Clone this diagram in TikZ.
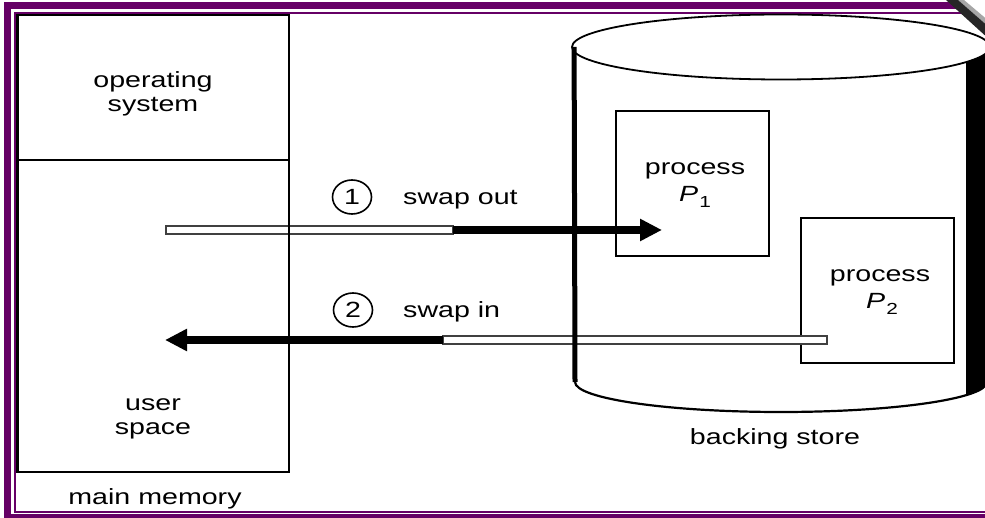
\documentclass[tikz,border=0pt]{standalone}
\usepackage{fontspec}
\setmainfont[FakeStretch=1.3]{Liberation Sans}
\usetikzlibrary{arrows.meta,calc,shapes.geometric}
\definecolor{framepurple}{RGB}{102,0,102}

\newcommand{\procsub}[1]{\raisebox{-0.45ex}{\fontsize{16}{16}\selectfont #1}}

\tikzset{
  lbl/.style={font=\fontsize{22}{24}\selectfont, inner sep=0pt, anchor=base},
  membox/.style={draw, line width=2.2pt, inner sep=0pt},
  procbox/.style={draw, line width=2.4pt, inner sep=0pt,
                  minimum width=153pt, minimum height=145pt},
  stepnum/.style={draw, ellipse, line width=1.6pt, inner sep=0pt,
                  minimum width=39pt, minimum height=34pt,
                  font=\fontsize{22}{24}\selectfont},
  hollowbar/.style={draw=black!75, line width=1.1pt, fill=white},
  solidarrow/.style={line width=8pt, -{Triangle[length=22pt,width=21pt]}},
}

\begin{document}
\begin{tikzpicture}[x=1pt,y=-1pt]
  \useasboundingbox (0,0) rectangle (985,518);
  \clip (0,0) rectangle (985,518);

  % double purple frame
  \draw[framepurple, line width=7pt] (7,6) rectangle (1000,517.5);
  \draw[framepurple, line width=2pt] (14.5,13) rectangle (1000,511.5);

  % backing store cylinder: shaded right flank, bottom rim, top
  \begin{scope}
    \clip (966,0) rectangle (1000,518);
    \fill[black] (575,47) -- (575,382)
      arc[start angle=180, end angle=0, x radius=206, y radius=30]
      -- (987,47) -- cycle;
  \end{scope}
  \draw[line width=2.2pt] (575,382)
      arc[start angle=180, end angle=0, x radius=206, y radius=30];
  \node[draw, ellipse, fill=white, line width=1.8pt, inner sep=0pt,
        minimum width=418pt, minimum height=65pt] (disktop) at (781,47) {};

  % processes on the backing store
  \node[procbox] (p1) at (692.5,183.5) {};
  \node[procbox] (p2) at (877.5,290.5) {};

  % swap out: user space -> P1
  \coordinate (outA) at (166,230);
  \coordinate (outB) at (453,230);
  \coordinate (outC) at (662,230);
  \draw[hollowbar] ($(outA)+(0,-4)$) rectangle ($(outB)+(0,4)$);
  \draw[solidarrow] (outB) -- (outC);

  % swap in: P2 -> user space
  \coordinate (inA) at (827,340);
  \coordinate (inB) at (443,340);
  \coordinate (inC) at (165,340);
  \draw[hollowbar] ($(inB)+(0,-4)$) rectangle ($(inA)+(0,4)$);
  \draw[solidarrow] (inB) -- (inC);

  % main memory
  \node[membox, minimum width=271.5pt, minimum height=145pt] (os) at (153.25,87.5) {};
  \node[membox, minimum width=271.5pt, minimum height=312pt] (user) at (153.25,316) {};

  % left wall of the cylinder
  \draw[line width=5pt] (disktop.west) ++(3,0) coordinate (wallTop) -- (575,382) coordinate (wallBot);

  % labels
  \node[lbl] (ostxtA) at (153,88) {operating};
  \node[lbl] (ostxtB) at (153,112) {system};
  \node[lbl] (ustxtA) at (153,410) {user};
  \node[lbl] (ustxtB) at (153,434) {space};
  \node[lbl] (mmtxt) at (155,504) {main memory};
  \node[lbl] (bstxt) at (775,444) {backing store};

  \node[lbl] (p1txtA) at (695,175) {process};
  \node[lbl] (p1txtB) at (695,202) {\textit{P}\kern1pt\procsub{1}};
  \node[lbl] (p2txtA) at (880,282) {process};
  \node[lbl] (p2txtB) at (882,309) {\textit{P}\kern1pt\procsub{2}};

  \node[stepnum] (s1) at (352,197) {1};
  \node[lbl, anchor=base west] (s1txt) at (403,205) {swap out};
  \node[stepnum] (s2) at (353,310) {2};
  \node[lbl, anchor=base west] (s2txt) at (403,318) {swap in};

  % turned-down page corner
  \fill[white] (956,0) -- (990,0) -- (990,30) -- cycle;
  \fill[black!35] (958,0) -- (964,0) -- (990,22) -- (990,28) -- cycle;
  \fill[black!85] (946,0) -- (958,0) -- (990,28) -- (990,40) -- cycle;
\end{tikzpicture}
\end{document}
